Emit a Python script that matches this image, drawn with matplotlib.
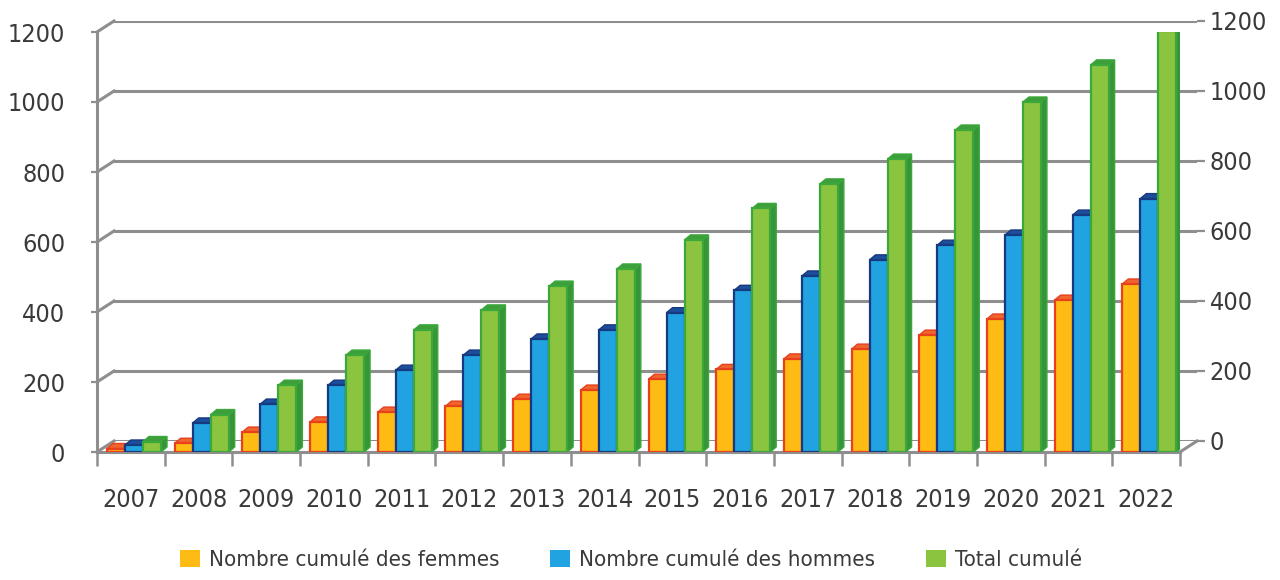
import matplotlib
matplotlib.use("Agg")
import matplotlib.pyplot as plt
from matplotlib.patches import Polygon, Patch
from matplotlib.lines import Line2D
import numpy as np

plt.rcParams["font.family"] = ["DejaVu Sans"]
plt.rcParams["font.stretch"] = "condensed"

years = [str(y) for y in range(2007, 2023)]
femmes = [10, 25, 57, 86, 114, 131, 151, 177, 208, 236, 266, 294, 334, 380, 434, 480]
hommes = [20, 83, 137, 191, 234, 277, 323, 349, 398, 462, 503, 549, 591, 620, 677, 724]
total = [30, 107, 191, 277, 349, 406, 474, 523, 606, 696, 766, 837, 920, 1000, 1106, 1203]
y_ticks = [0, 200, 400, 600, 800, 1000, 1200]

series = [femmes, hommes, total]
labels = ["Nombre cumulé des femmes", "Nombre cumulé des hommes", "Total cumulé"]
# front, outline, top, side
styles = [
    ("#FDBB13", "#E8401C", "#F0642E", "#E04A1C"),
    ("#21A3E1", "#17397F", "#1C4E9C", "#1A4E98"),
    ("#8BC540", "#3AA83A", "#3E9E3B", "#389438"),
]
legend_cols = ["#FDBB13", "#21A3E1", "#8BC540"]
grid_col = "#8E8E8E"
txt_col = "#3A3A3A"
fs = 18

W, H = 1280, 580
fig = plt.figure(figsize=(W / 100, H / 100), dpi=100)

# back wall (gridlines and right axis), shifted up-right for depth
DX, DY = 17, 11
ax_b = fig.add_axes([(97 + DX) / W, (H - 452 + DY) / H, 1083 / W, 420 / H], zorder=0)
ax = fig.add_axes([97 / W, (H - 452) / H, 1083 / W, 420 / H], zorder=1)
ax.patch.set_alpha(0)

n = len(years)
for a in (ax, ax_b):
    a.set_xlim(0, n)
    a.set_ylim(0, 1200)

ax_b.set_yticks(y_ticks)
ax_b.set_xticks([])
ax_b.grid(axis="y", color=grid_col, lw=2.2)
ax_b.yaxis.tick_right()
ax_b.tick_params(axis="y", direction="out", length=6, width=1.6, color=grid_col,
                 labelsize=fs, labelcolor=txt_col, pad=3)
for s in ax_b.spines.values():
    s.set_visible(False)

ax.set_yticks(y_ticks)
ax.tick_params(axis="y", length=4, width=1.6, color=grid_col, labelsize=fs,
               labelcolor=txt_col, pad=19)
ax.set_xticks(np.arange(n) + 0.5)
ax.set_xticklabels(years)
ax.set_xticks(np.arange(n + 1), minor=True)
ax.tick_params(axis="x", which="major", length=0, labelsize=fs, labelcolor=txt_col, pad=26)
ax.tick_params(axis="x", which="minor", length=10, width=1.8, color=grid_col)
ax.spines["top"].set_visible(False)
ax.spines["right"].set_visible(False)
for k in ("left", "bottom"):
    ax.spines[k].set_color(grid_col)
    ax.spines[k].set_linewidth(2.2)

# side-wall diagonals joining front and back
to_fig = fig.transFigure.inverted()
for v in y_ticks:
    p0 = to_fig.transform(ax.transData.transform((0, v)))
    p1 = to_fig.transform(ax_b.transData.transform((0, v)))
    fig.add_artist(Line2D([p0[0], p1[0]], [p0[1], p1[1]], color=grid_col, lw=2.2,
                          transform=fig.transFigure, zorder=0.5))
p0 = to_fig.transform(ax.transData.transform((n, 0)))
p1 = to_fig.transform(ax_b.transData.transform((n, 0)))
fig.add_artist(Line2D([p0[0], p1[0]], [p0[1], p1[1]], color=grid_col, lw=2.2,
                      transform=fig.transFigure, zorder=0.5))

# 3D columns: front face from ax.bar, top and side faces as polygons
px_x = 1083 / n
px_y = 420 / 1200
bw = 18 / px_x
start = 10 / px_x
dx = 6 / px_x
dy = 5 / px_y
for s, (vals, (front, edge, top, side)) in enumerate(zip(series, styles)):
    x0 = np.arange(n) + start + s * bw
    ax.bar(x0, vals, width=bw, align="edge", color=front, edgecolor=edge,
           linewidth=1.6, zorder=3 + 2 * s)
    for xl, h in zip(x0, vals):
        xr = xl + bw
        ax.add_patch(Polygon([(xr, 0), (xr + dx, dy), (xr + dx, h + dy), (xr, h)],
                             closed=True, fc=side, ec=edge, lw=1.0, zorder=2 + 2 * s))
        ax.add_patch(Polygon([(xl, h), (xr, h), (xr + dx, h + dy), (xl + dx, h + dy)],
                             closed=True, fc=top, ec=edge, lw=1.0, zorder=2 + 2 * s))

handles = [Patch(facecolor=c, edgecolor="none") for c in legend_cols]
fig.legend(handles, labels, loc="center", bbox_to_anchor=(0.493, (H - 560) / H),
           ncol=3, frameon=False, fontsize=16, handlelength=0.9, handleheight=0.8,
           handletextpad=0.4, columnspacing=2.3, labelcolor=txt_col)

fig.savefig("out.png", dpi=100)
